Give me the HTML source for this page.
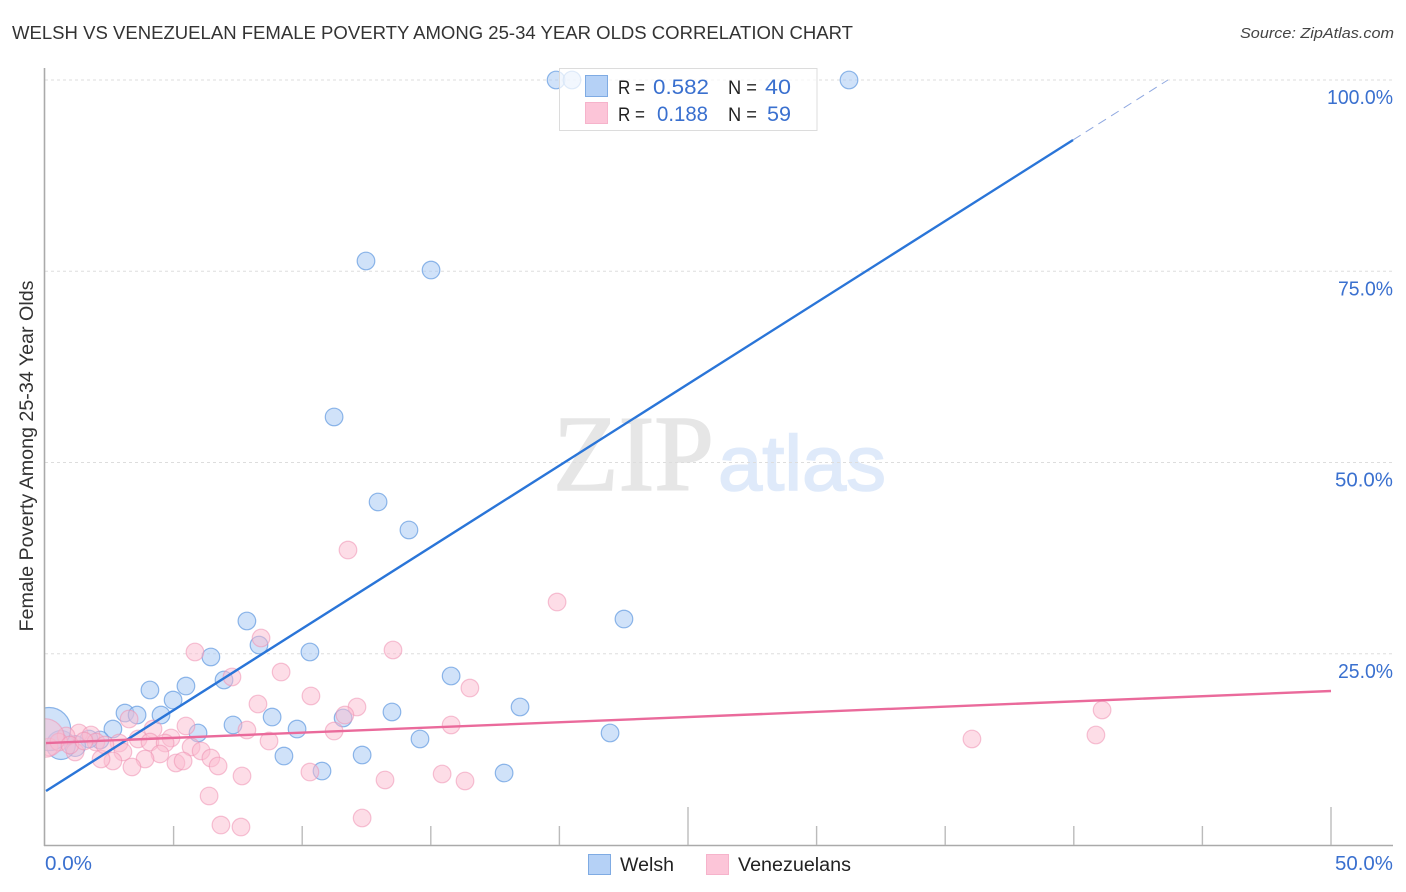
<!DOCTYPE html>
<html lang="en">
<head>
<meta charset="utf-8">
<title>Welsh vs Venezuelan Female Poverty Correlation Chart</title>
<style>
html,body{margin:0;padding:0;background:#fff;}
svg{display:block;font-family:"Liberation Sans",sans-serif;}
</style>
</head>
<body>
<svg id="chart" xmlns="http://www.w3.org/2000/svg" width="1406" height="892" viewBox="0 0 1406 892">
  <rect x="0" y="0" width="1406" height="892" fill="#ffffff"/>
  <text x="12" y="39" font-size="18" fill="#333333" textLength="841" lengthAdjust="spacingAndGlyphs">WELSH VS VENEZUELAN FEMALE POVERTY AMONG 25-34 YEAR OLDS CORRELATION CHART</text>
  <text x="1394" y="38" font-size="15" font-style="italic" fill="#444" text-anchor="end" textLength="154" lengthAdjust="spacingAndGlyphs">Source: ZipAtlas.com</text>

  <g>
    <text x="553" y="490" font-family="'Liberation Serif',serif" font-size="108" fill="#e6e6e6" stroke="#e6e6e6" stroke-width="1.6" textLength="161" lengthAdjust="spacingAndGlyphs">ZIP</text>
    <text x="718" y="490" font-size="78" fill="#dfeafa" stroke="#dfeafa" stroke-width="1.6" textLength="168" lengthAdjust="spacingAndGlyphs">atlas</text>
  </g>

  <g id="grid"></g>
  <g id="tick-labels"></g>

  <text transform="translate(33,456) rotate(-90)" font-size="19" fill="#333" text-anchor="middle" textLength="351" lengthAdjust="spacingAndGlyphs">Female Poverty Among 25-34 Year Olds</text>

  <svg x="45" y="60" width="1348" height="786" viewBox="45 60 1348 786" overflow="hidden">
    <g id="points"></g>
  </svg>
  <g id="axes"></g>
  <g id="trends"></g>

  <g>
    <rect x="559.5" y="68.5" width="257.5" height="62" fill="#ffffff" fill-opacity="0.72" stroke="#dcdcdc" stroke-width="1"/>
    <rect x="585.5" y="75.5" width="22" height="21" fill="#b5d1f6" stroke="#7fabe3"/>
    <rect x="585.5" y="102.5" width="22" height="21" fill="#fcc5d8" stroke="#f6b3cb"/>
    <text x="618" y="94" font-size="19" fill="#222" textLength="27" lengthAdjust="spacingAndGlyphs">R =</text>
    <text x="653" y="94" font-size="21" fill="#3a70cf" textLength="56" lengthAdjust="spacingAndGlyphs">0.582</text>
    <text x="728" y="94" font-size="19" fill="#222" textLength="29" lengthAdjust="spacingAndGlyphs">N =</text>
    <text x="765" y="94" font-size="21" fill="#3a70cf" textLength="26" lengthAdjust="spacingAndGlyphs">40</text>
    <text x="618" y="121" font-size="19" fill="#222" textLength="27" lengthAdjust="spacingAndGlyphs">R =</text>
    <text x="657" y="121" font-size="21" fill="#3a70cf" textLength="51" lengthAdjust="spacingAndGlyphs">0.188</text>
    <text x="728" y="121" font-size="19" fill="#222" textLength="29" lengthAdjust="spacingAndGlyphs">N =</text>
    <text x="767" y="121" font-size="21" fill="#3a70cf" textLength="24" lengthAdjust="spacingAndGlyphs">59</text>
  </g>

  <g>
    <g>
      <rect x="588.5" y="854.5" width="22" height="20" fill="#b5d1f6" stroke="#7fabe3"/>
      <text x="620" y="871" font-size="19" fill="#222" textLength="54" lengthAdjust="spacingAndGlyphs">Welsh</text>
    </g>
    <g>
      <rect x="706.5" y="854.5" width="22" height="20" fill="#fcc5d8" stroke="#f6b3cb"/>
      <text x="738" y="871" font-size="19" fill="#222" textLength="113" lengthAdjust="spacingAndGlyphs">Venezuelans</text>
    </g>
  </g>
</svg>
<script>
const welshX = [19.87,20.49,31.26,12.48,15.01,11.24,12.95,14.15,22.51,7.85,8.32,10.30,6.45,6.96,15.79,4.08,5.48,4.98,18.47,13.49,3.11,3.58,4.51,8.83,11.59,7.31,9.80,5.95,21.97,2.64,14.58,9.29,12.33,10.77,17.85,2.14,1.71,1.17,0.62,0.16];
const welshY = [100,100,100,76.34,75.16,55.95,44.84,41.18,29.54,29.28,26.14,25.23,24.58,21.57,22.09,20.26,20.78,18.95,18.04,17.39,17.25,16.99,16.99,16.73,16.60,15.69,15.16,14.64,14.64,15.16,13.86,11.63,11.76,9.67,9.41,13.73,13.86,12.94,13.07,15.16];
const welshWeight = [1,1,1,1,1,1,1,1,1,1,1,1,1,1,1,1,1,1,1,1,1,1,1,1,1,1,1,1,1,1,1,1,1,1,1,1,1,1.4,2.7,6];

const venezuelanX = [11.78,19.91,13.53,5.83,8.40,9.18,7.27,16.52,10.34,8.28,12.13,41.10,11.66,3.27,5.48,15.79,7.85,4.20,11.24,3.62,4.90,4.08,4.67,8.71,36.04,40.86,2.88,3.03,5.68,6.07,6.45,6.73,4.47,3.89,2.64,3.38,5.09,5.37,7.66,6.38,6.84,7.62,10.30,13.22,15.44,16.33,12.33,2.18,1.32,1.79,0.82,1.98,1.17,0.16,0.54,0,2.33,0.97,1.52];
const venezuelanY = [38.56,31.76,25.49,25.23,27.06,22.61,21.96,20.52,19.48,18.43,18.04,17.65,16.99,16.47,15.56,15.69,15.03,15.16,14.90,13.86,13.99,13.46,13.33,13.59,13.86,14.38,13.33,12.16,12.81,12.29,11.37,10.33,11.90,11.24,10.98,10.20,10.72,10.98,9.02,6.41,2.61,2.35,9.54,8.50,9.28,8.37,3.53,11.24,14.64,14.38,14.25,13.46,12.16,12.81,13.46,13.99,13.07,13.07,13.59];
const venezuelanWeight = [1,1,1,1,1,1,1,1,1,1,1,1,1,1,1,1,1,1,1,1,1,1,1,1,1,1,1,1,1,1,1,1,1,1,1,1,1,1,1,1,1,1,1,1,1,1,1,1,1,1,1,1,1,1,1,4.8,1,1,1];

const welshTrendX = [0.04,39.97];
const welshTrendY = [7.06,92.16];
const welshForecastX = [39.97,43.66];
const welshForecastY = [92.16,100];
const venezuelanTrendX = [0.04,50];
const venezuelanTrendY = [13.33,20.13];

const yGridValues = [100,75,50,25];
const yTickLabels = ["100.0%","75.0%","50.0%","25.0%"];
const yTickWidths = [66,55,58,55];
const xTickValues = [5,10,15,20,25,30,35,40,45,50];
const xMajorTicks = [25,50];
const xEndValues = [0,50];
const xEndLabels = ["0.0%","50.0%"];
const xEndWidths = [47,58];

const NS = 'http://www.w3.org/2000/svg';
function xScale(v){ return 45 + v * 25.72; }
function yScale(v){ return 845 - v * 7.65; }
function rScale(w){ return 8.8 * Math.sqrt(w); }
function make(tag, attrs, parent){
  const el = document.createElementNS(NS, tag);
  for (const k in attrs) el.setAttribute(k, attrs[k]);
  parent.appendChild(el);
  return el;
}

const grid = document.getElementById('grid');
const axes = document.getElementById('axes');
const labels = document.getElementById('tick-labels');
const points = document.getElementById('points');
const trends = document.getElementById('trends');

yGridValues.forEach(function(v, i){
  const line = make('line', {x1:45, x2:1393, y1:yScale(v), y2:yScale(v), stroke:'#dddddd', 'stroke-width':1, 'stroke-dasharray':'3 3'}, grid);
  
  
  const t = make('text', {x:1393 - yTickWidths[i], y:yScale(v)+24, 'font-size':20, fill:'#3a70cf', textLength:yTickWidths[i], lengthAdjust:'spacingAndGlyphs'}, labels);
  t.textContent = yTickLabels[i];
  
  
});

const yAxis = make('line', {x1:44.5, x2:44.5, y1:68, y2:846, stroke:'#aaaaaa', 'stroke-width':1.6}, axes);


const xAxis = make('line', {x1:44, x2:1393, y1:845.5, y2:845.5, stroke:'#aaaaaa', 'stroke-width':1.4}, axes);



xTickValues.forEach(function(v){
  const top = xMajorTicks.indexOf(v) >= 0 ? 807 : 826;
  const tick = make('line', {x1:xScale(v), x2:xScale(v), y1:top, y2:845, stroke:'#bbbbbb', 'stroke-width':1.4}, axes);
  
  
});

xEndValues.forEach(function(v, i){
  const left = i === 0 ? xScale(v) : 1393 - xEndWidths[i];
  const t = make('text', {x:left, y:870, 'font-size':20, fill:'#3a70cf', textLength:xEndWidths[i], lengthAdjust:'spacingAndGlyphs'}, labels);
  t.textContent = xEndLabels[i];
  
  
});

welshX.forEach(function(v, i){
  const c = make('circle', {cx:xScale(v), cy:yScale(welshY[i]), r:rScale(welshWeight[i]), fill:'#a9cbf4', 'fill-opacity':0.55, stroke:'#6a9fe2', 'stroke-opacity':0.75, 'stroke-width':1.2}, points);
  
  
});
venezuelanX.forEach(function(v, i){
  const c = make('circle', {cx:xScale(v), cy:yScale(venezuelanY[i]), r:rScale(venezuelanWeight[i]), fill:'#fbbcd0', 'fill-opacity':0.5, stroke:'#ee92b2', 'stroke-opacity':0.55, 'stroke-width':1.2}, points);
  
  
});

const forecast = make('line', {x1:xScale(welshForecastX[0]), y1:yScale(welshForecastY[0]), x2:xScale(welshForecastX[1]), y2:yScale(welshForecastY[1]), stroke:'#8fa8e0', 'stroke-width':1, 'stroke-dasharray':'9 6'}, trends);


const welshTrend = make('line', {x1:xScale(welshTrendX[0]), y1:yScale(welshTrendY[0]), x2:xScale(welshTrendX[1]), y2:yScale(welshTrendY[1]), stroke:'#2a75d8', 'stroke-width':2.4}, trends);


const venezuelanTrend = make('line', {x1:xScale(venezuelanTrendX[0]), y1:yScale(venezuelanTrendY[0]), x2:xScale(venezuelanTrendX[1]), y2:yScale(venezuelanTrendY[1]), stroke:'#ea6a9b', 'stroke-width':2.4}, trends);


</script>
</body>
</html>
